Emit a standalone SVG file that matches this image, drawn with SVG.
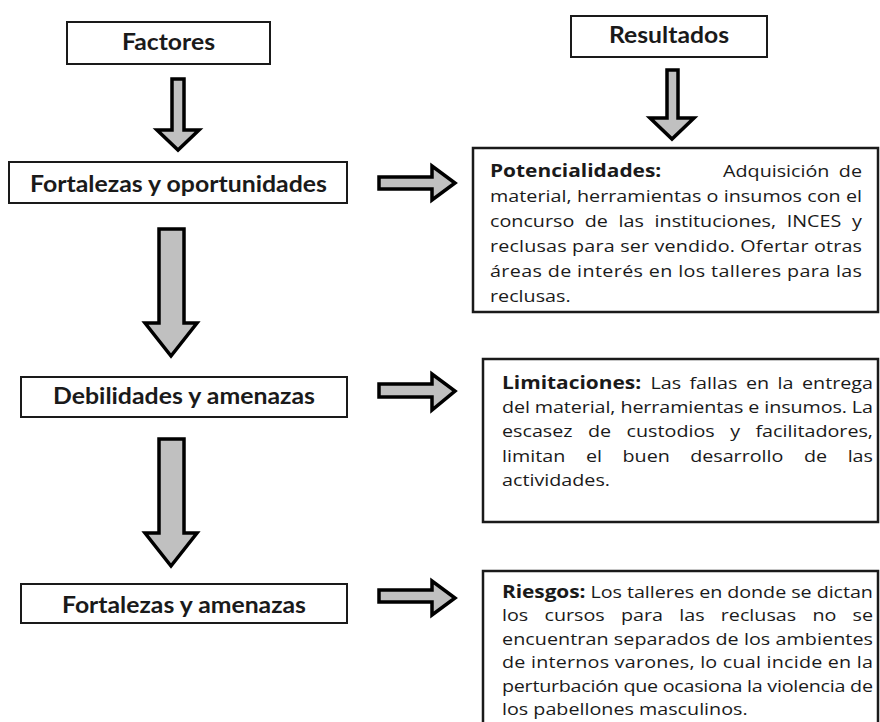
<svg xmlns="http://www.w3.org/2000/svg" width="880" height="722" viewBox="0 0 880 722">
<style>
.box{fill:#fff;stroke:#1a1a1a;stroke-width:2}
.cbox{fill:#fff;stroke:#1a1a1a;stroke-width:2.5}
.h{font-family:Lato,"Open Sans","Liberation Sans",sans-serif;font-weight:bold;font-size:22px;fill:#1a1a1a;text-anchor:middle}
.t{font-family:"Open Sans","Liberation Sans",sans-serif;font-size:17px;fill:#1a1a1a}
.b{font-weight:bold;font-size:18px}
.e{text-anchor:end}
.arr{fill:#c0c0c0;stroke:#000;stroke-width:3.5;stroke-linejoin:miter}
</style>
<rect width="880" height="722" fill="#fff"/>
<g id="connectors">
<polygon class="arr" points="172,79 184,79 184,130 199,130 178,150 157,130 172,130"/>
<polygon class="arr" points="667,70 678,70 678,118 694,118 672,139 650,118 667,118"/>
<polygon class="arr" points="159,229 184,229 184,323 197,323 171,356 145,323 159,323"/>
<polygon class="arr" points="159,439 184,439 184,533 197,533 171,566 145,533 159,533"/>
<polygon class="arr" points="379,177 432,177 432,166 455,183 432,200 432,189 379,189"/>
<polygon class="arr" points="379,384 432,384 432,374 455,391 432,410 432,397 379,397"/>
<polygon class="arr" points="379,590 432,590 432,581 455,598 432,615 432,602 379,602"/>
</g>
<g id="factores">
<rect class="box" x="67" y="22" width="203" height="42"/>
<text class="h" x="168.5" y="50" textLength="93" lengthAdjust="spacingAndGlyphs">Factores</text>
</g>
<g id="resultados">
<rect class="box" x="571" y="16" width="196" height="41"/>
<text class="h" x="669" y="43" textLength="120" lengthAdjust="spacingAndGlyphs">Resultados</text>
</g>
<g id="fortalezas-oportunidades">
<rect class="box" x="9" y="162" width="338" height="41"/>
<text class="h" x="178.5" y="192" textLength="297" lengthAdjust="spacingAndGlyphs">Fortalezas y oportunidades</text>
</g>
<g id="debilidades-amenazas">
<rect class="box" x="21" y="377" width="326" height="40"/>
<text class="h" x="184" y="404" textLength="262" lengthAdjust="spacingAndGlyphs">Debilidades y amenazas</text>
</g>
<g id="fortalezas-amenazas">
<rect class="box" x="21" y="584" width="326" height="39"/>
<text class="h" x="184" y="613" textLength="244" lengthAdjust="spacingAndGlyphs">Fortalezas y amenazas</text>
</g>
<g id="potencialidades">
<rect class="cbox" x="473" y="148" width="405" height="164"/>
<g transform="translate(490 0) scale(1.16 1)">
<text class="t" y="177"><tspan class="b" x="0">Potencialidades:</tspan><tspan x="200.9">Adquisición</tspan></text>
<text class="t e" x="320.7" y="177">de</text>
<text class="t" x="0" y="202" textLength="320.7" lengthAdjust="spacing">material, herramientas o insumos con el</text>
<text class="t" y="227"><tspan x="0">concurso</tspan><tspan x="81.6">de</tspan><tspan x="110.8">las</tspan><tspan x="141.9">instituciones,</tspan><tspan x="255.8">INCES</tspan></text>
<text class="t e" x="320.7" y="227">y</text>
<text class="t" x="0" y="252" textLength="320.7" lengthAdjust="spacing">reclusas para ser vendido. Ofertar otras</text>
<text class="t" x="0" y="277" textLength="320.7" lengthAdjust="spacing">áreas de interés en los talleres para las</text>
<text class="t" x="0" y="302">reclusas.</text>
</g>
</g>
<g id="limitaciones">
<rect class="cbox" x="483" y="359" width="395" height="163"/>
<g transform="translate(502 0) scale(1.16 1)">
<text class="t" y="389"><tspan class="b" x="0">Limitaciones:</tspan><tspan x="128">Las</tspan><tspan x="161.6">fallas</tspan><tspan x="210.3">en</tspan><tspan x="237.5">la</tspan></text>
<text class="t e" x="319.8" y="389">entrega</text>
<text class="t" x="0" y="413" textLength="319.8" lengthAdjust="spacing">del material, herramientas e insumos. La</text>
<text class="t" y="437"><tspan x="0">escasez</tspan><tspan x="74.1">de</tspan><tspan x="107.4">custodios</tspan><tspan x="196.7">y</tspan></text>
<text class="t e" x="319.8" y="437">facilitadores,</text>
<text class="t" y="462"><tspan x="0">limitan</tspan><tspan x="72.4">el</tspan><tspan x="103.9">buen</tspan><tspan x="162.2">desarrollo</tspan><tspan x="260.3">de</tspan></text>
<text class="t e" x="319.8" y="462">las</text>
<text class="t" x="0" y="486">actividades.</text>
</g>
</g>
<g id="riesgos">
<rect class="cbox" x="483" y="571" width="395" height="170"/>
<g transform="translate(502 0) scale(1.16 1)">
<text class="t" x="0" y="598" textLength="319.8" lengthAdjust="spacing"><tspan class="b">Riesgos:</tspan> Los talleres en donde se dictan</text>
<text class="t" y="621.5"><tspan x="0">los</tspan><tspan x="36.6">cursos</tspan><tspan x="102.6">para</tspan><tspan x="152.8">las</tspan><tspan x="188.6">reclusas</tspan><tspan x="267.7">no</tspan></text>
<text class="t e" x="319.8" y="621.5">se</text>
<text class="t" x="0" y="645" textLength="319.8" lengthAdjust="spacing">encuentran separados de los ambientes</text>
<text class="t" x="0" y="668.5" textLength="319.8" lengthAdjust="spacing">de internos varones, lo cual incide en la</text>
<text class="t" x="0" y="692" textLength="319.8" lengthAdjust="spacing">perturbación que ocasiona la violencia de</text>
<text class="t" x="0" y="715.5">los pabellones masculinos.</text>
</g>
</g>
</svg>
